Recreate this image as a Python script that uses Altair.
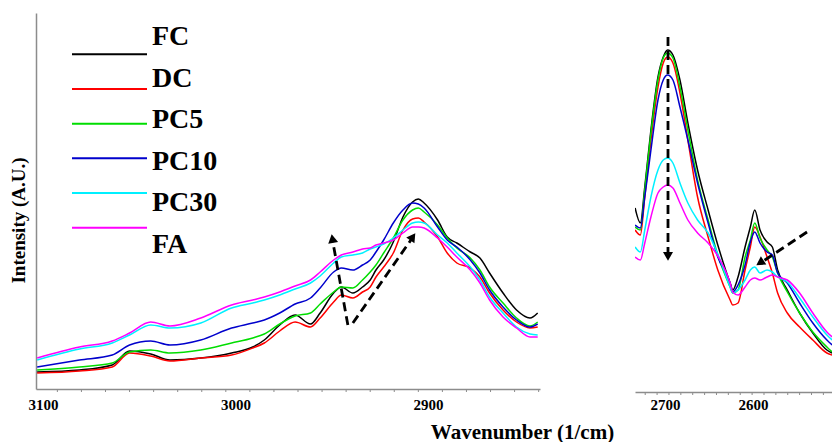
import altair as alt
import pandas as pd

# ---------------- data ----------------
SERIES = ["FC", "DC", "PC5", "PC10", "PC30", "FA"]
COLORS = ["#000000", "#ff0000", "#00dd00", "#0000cc", "#00f0ff", "#ff00ff"]

# left panel (C-H stretching region), wavenumber in 1/cm, intensity in arbitrary units
LEFT_WN = [3103, 3081, 3064, 3055, 3044, 3034, 3018, 3002, 2991, 2985, 2977, 2969,
           2961, 2956, 2949, 2945, 2939, 2934, 2930, 2927, 2923, 2918, 2913, 2908,
           2905, 2902, 2895, 2890, 2885, 2878, 2873, 2868, 2861, 2854, 2847, 2843]
LEFT_FC = [17, 19, 24, 38, 35, 29, 31, 36, 42, 49, 64, 74, 65, 76, 96, 102, 96, 102,
           109, 119, 129, 147, 172, 187, 190, 186, 169, 152, 146, 137, 131, 116, 96, 79, 71, 76]
LEFT_DC = [16, 18, 22, 36, 33, 28, 31, 34, 41, 46, 58, 67, 62, 71, 87, 94, 91, 97,
           102, 112, 122, 136, 159, 170, 171, 167, 152, 136, 126, 121, 112, 96, 79, 67, 61, 62]
LEFT_PC5 = [19, 22, 26, 37, 39, 36, 39, 46, 51, 55, 65, 73, 76, 85, 97, 102, 101, 109,
            117, 124, 136, 151, 169, 179, 181, 177, 164, 151, 141, 131, 119, 102, 86, 71, 63, 67]
LEFT_PC10 = [22, 29, 34, 44, 48, 44, 49, 61, 66, 69, 76, 85, 91, 101, 117, 121, 119, 124,
             129, 137, 149, 166, 179, 186, 185, 181, 162, 149, 142, 129, 116, 99, 82, 69, 62, 65]
LEFT_PC30 = [29, 40, 46, 54, 64, 61, 66, 81, 86, 89, 94, 100, 106, 113, 126, 132, 134, 136,
             140, 142, 145, 151, 159, 166, 167, 166, 154, 146, 136, 122, 109, 92, 76, 62, 55, 54]
LEFT_FA = [31, 42, 48, 56, 67, 63, 71, 84, 89, 92, 97, 103, 109, 117, 129, 134, 137, 140,
           141, 144, 146, 149, 156, 162, 162, 161, 151, 142, 132, 119, 106, 89, 72, 61, 52, 52]

# right panel
RIGHT_WN = [2734, 2728, 2723, 2716, 2708, 2702, 2697, 2691, 2683, 2674, 2663, 2651, 2640, 2626,
            2623, 2617, 2609, 2603, 2598, 2592, 2584, 2578, 2572, 2561, 2547, 2532, 2516, 2510]
RIGHT_FC = [181, 166, 202, 259, 312, 332, 339, 334, 309, 266, 219, 179, 144, 106,
            99, 112, 142, 162, 179, 159, 147, 142, 119, 99, 76, 56, 39, 36]
RIGHT_DC = [159, 154, 192, 249, 302, 326, 332, 326, 296, 249, 192, 152, 119, 89,
            84, 86, 119, 142, 162, 152, 132, 116, 96, 76, 62, 49, 36, 34]
RIGHT_PC5 = [162, 159, 199, 256, 309, 331, 336, 331, 302, 259, 209, 169, 134, 102,
             96, 99, 132, 149, 166, 151, 139, 132, 116, 97, 76, 57, 42, 37]
RIGHT_PC10 = [164, 161, 192, 239, 289, 309, 314, 309, 282, 249, 206, 166, 132, 106,
              97, 104, 124, 147, 157, 146, 137, 134, 116, 106, 86, 66, 49, 44]
RIGHT_PC30 = [142, 137, 159, 192, 219, 229, 231, 226, 206, 186, 169, 156, 135, 102,
              96, 99, 109, 119, 122, 116, 119, 117, 112, 107, 91, 72, 54, 49]
RIGHT_FA = [132, 129, 146, 172, 196, 202, 204, 201, 186, 169, 156, 146, 133, 106,
            97, 94, 102, 109, 111, 109, 112, 114, 112, 109, 96, 76, 57, 52]

# tick labels and minor ticks
LEFT_TICK_LABELS = [3100, 3000, 2900]
LEFT_MINOR_TICKS = [3092.5, 3080, 3067.5, 3055, 3042.5, 3030, 3017.5, 3005, 2992.5, 2980,
                    2967.5, 2955, 2942.5, 2930, 2917.5, 2905, 2892.5, 2880, 2867.5, 2855, 2842.5]
RIGHT_TICK_LABELS = [2700, 2600]
RIGHT_MINOR_TICKS = [2722.5, 2709, 2695.5, 2682, 2668.5, 2655, 2641.5, 2628, 2614.5,
                     2601, 2587.5, 2574, 2560.5, 2547, 2533.5, 2520]

# annotation arrows (start -> end) and arrowheads, in data units
LEFT_ARROW_X1 = [2941.6, 2939.0]
LEFT_ARROW_Y1 = [64, 66]
LEFT_ARROW_X2 = [2949.4, 2908.5]
LEFT_ARROW_Y2 = [147, 150]
LEFT_HEAD_X = [2949.5, 2908.3]
LEFT_HEAD_Y = [149, 151]
LEFT_HEAD_ANGLE = [350, 35]

RIGHT_ARROW_X1 = [2696.6, 2538.6]
RIGHT_ARROW_Y1 = [352, 157]
RIGHT_ARROW_X2 = [2696.6, 2589.8]
RIGHT_ARROW_Y2 = [137, 127]
RIGHT_HEAD_X = [2696.6, 2590.7]
RIGHT_HEAD_Y = [134, 127]
RIGHT_HEAD_ANGLE = [180, 237]


def long_df(wn, cols):
    rows = []
    for s, vals in zip(SERIES, cols):
        for w, v in zip(wn, vals):
            rows.append({"series": s, "wn": w, "I": v})
    return pd.DataFrame(rows)


left_df = long_df(LEFT_WN, [LEFT_FC, LEFT_DC, LEFT_PC5, LEFT_PC10, LEFT_PC30, LEFT_FA])
right_df = long_df(RIGHT_WN, [RIGHT_FC, RIGHT_DC, RIGHT_PC5, RIGHT_PC10, RIGHT_PC30, RIGHT_FA])

FONT = "Liberation Serif"
GRAY = "#8c8c8c"

color = alt.Color("series:N", scale=alt.Scale(domain=SERIES, range=COLORS), legend=None)

# ---------------- left panel ----------------
lx = alt.Scale(domain=[2841.8, 3103.6], reverse=True, nice=False, zero=False)
ly = alt.Scale(domain=[0, 376], nice=False, zero=False)

left_lines = alt.Chart(left_df).mark_line(strokeWidth=1.5, interpolate="monotone", clip=True).encode(
    x=alt.X("wn:Q", scale=lx, axis=alt.Axis(
        values=LEFT_TICK_LABELS, format="d", ticks=False, tickSize=0, grid=False,
        labelFont=FONT, labelFontWeight="bold", labelFontSize=15, labelColor="black",
        labelPadding=8, labelFlush=False, labelOverlap=False,
        domainColor=GRAY, domainWidth=1.5,
        title="Wavenumber (1/cm)", titleFont=FONT, titleFontSize=21, titleFontWeight="bold",
        titleColor="black", titleX=486, titleY=32)),
    y=alt.Y("I:Q", scale=ly, axis=alt.Axis(
        title="Intensity (A.U.)", labels=False, ticks=False, tickSize=0, grid=False,
        domainColor=GRAY, domainWidth=1.5,
        titleFont=FONT, titleFontSize=19, titleFontWeight="bold", titleColor="black",
        titlePadding=8, titleY=207)),
    color=color,
    detail="series:N",
)

left_ticks = alt.Chart(pd.DataFrame({"wn": LEFT_MINOR_TICKS})).mark_rule(color=GRAY, strokeWidth=1).encode(
    x=alt.X("wn:Q", scale=lx), y=alt.value(376), y2=alt.value(379))

left_arrows = alt.Chart(pd.DataFrame({"wn": LEFT_ARROW_X1, "I": LEFT_ARROW_Y1,
                                      "wn2": LEFT_ARROW_X2, "I2": LEFT_ARROW_Y2})).mark_rule(
    color="black", strokeWidth=2.8, strokeDash=[9, 5]).encode(
    x=alt.X("wn:Q", scale=lx), x2="wn2:Q", y=alt.Y("I:Q", scale=ly), y2="I2:Q")

left_heads = alt.Chart(pd.DataFrame({"wn": LEFT_HEAD_X, "I": LEFT_HEAD_Y, "ang": LEFT_HEAD_ANGLE})).mark_point(
    shape="triangle", filled=True, color="black", opacity=1, size=100).encode(
    x=alt.X("wn:Q", scale=lx), y=alt.Y("I:Q", scale=ly), angle=alt.Angle("ang:Q", scale=None))

legend_df = pd.DataFrame({"series": SERIES})
ley = alt.Y("series:N", scale=alt.Scale(domain=SERIES, range=[24, 232], padding=0), axis=None)
leg_rule = alt.Chart(legend_df).mark_rule(strokeWidth=2).encode(
    x=alt.value(36), x2=alt.value(111), y=ley, color=color)
leg_text = alt.Chart(legend_df).mark_text(
    align="left", baseline="middle", font=FONT, fontWeight="bold", fontSize=28, color="black").encode(
    x=alt.value(116), y=ley, text="series:N")

left = alt.layer(
    alt.layer(left_lines, left_ticks, left_arrows, left_heads),
    leg_rule, leg_text,
).resolve_scale(y="independent").properties(width=504, height=376)

# ---------------- right panel ----------------
rx = alt.Scale(domain=[2510.2, 2734.1], reverse=True, nice=False, zero=False)
ry = alt.Scale(domain=[-3, 376], nice=False, zero=False)

right_lines = alt.Chart(right_df).mark_line(strokeWidth=1.5, interpolate="monotone", clip=True).encode(
    x=alt.X("wn:Q", scale=rx, axis=alt.Axis(
        values=RIGHT_TICK_LABELS, format="d", ticks=False, tickSize=0, grid=False,
        labelFont=FONT, labelFontWeight="bold", labelFontSize=15, labelColor="black",
        labelPadding=5, labelFlush=False, labelOverlap=False,
        domainColor=GRAY, domainWidth=1.5, title=None)),
    y=alt.Y("I:Q", scale=ry, axis=None),
    color=color,
    detail="series:N",
)

right_ticks = alt.Chart(pd.DataFrame({"wn": RIGHT_MINOR_TICKS})).mark_rule(color=GRAY, strokeWidth=1).encode(
    x=alt.X("wn:Q", scale=rx), y=alt.value(379), y2=alt.value(382))

right_arrows = alt.Chart(pd.DataFrame({"wn": RIGHT_ARROW_X1, "I": RIGHT_ARROW_Y1,
                                       "wn2": RIGHT_ARROW_X2, "I2": RIGHT_ARROW_Y2})).mark_rule(
    color="black", strokeWidth=2.8, strokeDash=[9, 5]).encode(
    x=alt.X("wn:Q", scale=rx), x2="wn2:Q", y=alt.Y("I:Q", scale=ry), y2="I2:Q")

right_heads = alt.Chart(pd.DataFrame({"wn": RIGHT_HEAD_X, "I": RIGHT_HEAD_Y, "ang": RIGHT_HEAD_ANGLE})).mark_point(
    shape="triangle", filled=True, color="black", opacity=1, size=100).encode(
    x=alt.X("wn:Q", scale=rx), y=alt.Y("I:Q", scale=ry), angle=alt.Angle("ang:Q", scale=None))

right = alt.layer(right_lines, right_ticks, right_arrows, right_heads).properties(width=197, height=379)

chart = alt.hconcat(left, right, spacing=95, bounds="flush").properties(
    padding={"left": 9, "top": 13, "right": 0, "bottom": 0},
    background="white",
).configure_view(stroke=None)

chart.save("out.html", embed_options={"renderer": "svg", "actions": False})
